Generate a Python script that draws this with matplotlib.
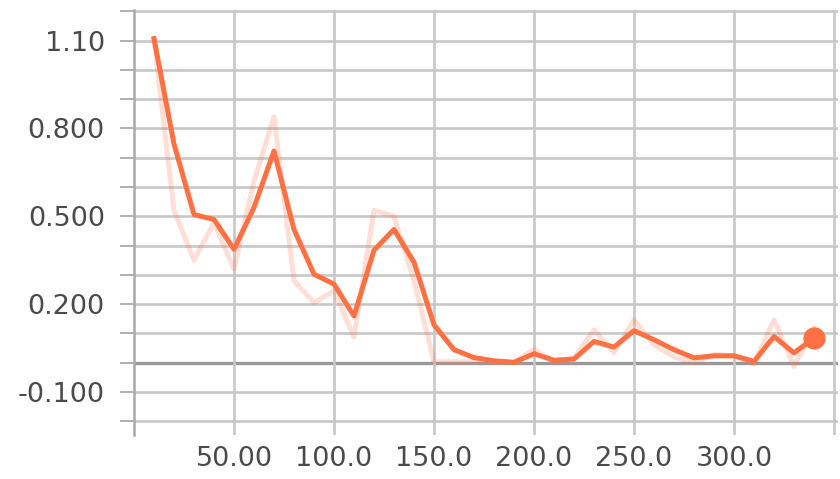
import numpy as np
import matplotlib
matplotlib.use('Agg')
import matplotlib.pyplot as plt
from matplotlib.ticker import FixedLocator, FixedFormatter

steps = [10, 20, 30, 40, 50, 60, 70, 80, 90, 100, 110, 120, 130, 140, 150, 160, 170,
         180, 190, 200, 210, 220, 230, 240, 250, 260, 270, 280, 290, 300, 310, 320, 330, 340]
smoothed = [1.107, 0.747, 0.506, 0.489, 0.387, 0.530, 0.723, 0.455, 0.302, 0.268, 0.159,
            0.384, 0.455, 0.343, 0.129, 0.044, 0.017, 0.006, 0.001, 0.030, 0.008, 0.012,
            0.072, 0.053, 0.109, 0.078, 0.044, 0.016, 0.023, 0.023, 0.004, 0.089, 0.033, 0.084]
raw = [1.107, 0.52, 0.35, 0.478, 0.32, 0.62, 0.84, 0.28, 0.205, 0.245, 0.087,
       0.52, 0.50, 0.28, 0.003, 0.003, 0.003, 0.002, 0.0, 0.046, 0.0, 0.015,
       0.112, 0.034, 0.146, 0.06, 0.02, 0.0, 0.028, 0.023, -0.005, 0.146, -0.013, 0.118]

y_major = [1.10, 0.80, 0.50, 0.20, -0.10]
y_labels = ['1.10', '0.800', '0.500', '0.200', '-0.100']
x_major = [50, 100, 150, 200, 250, 300]
x_labels = ['50.00', '100.0', '150.0', '200.0', '250.0', '300.0']

plt.rcParams['font.family'] = ['DejaVu Sans']
orange = '#ff7043'

fig = plt.figure(figsize=(8.4, 4.79), dpi=100)
ax = fig.add_axes([134/840, 44/479, 704/840, 425/479])

# grid lines (every 0.1 in y, every 50 in x)
for v in np.arange(-0.2, 1.21, 0.1):
    if abs(v) < 1e-9:
        continue
    ax.axhline(v, color='#c8c8c8', lw=1.9, zorder=1)
ax.axhline(0, color='#999999', lw=2.4, zorder=1)
for v in range(50, 351, 50):
    ax.axvline(v, color='#c8c8c8', lw=1.9, zorder=1)

ax.plot(steps, raw, color=orange, alpha=0.22, lw=3.6, zorder=2)
ax.plot(steps, smoothed, color=orange, lw=3.6, zorder=3)
ax.plot(steps[-1], smoothed[-1], 'o', color=orange, markersize=15, zorder=4)

ax.set_xlim(0, 352)
ax.set_ylim(-0.2476, 1.205)

ax.yaxis.set_major_locator(FixedLocator(y_major))
ax.yaxis.set_major_formatter(FixedFormatter(y_labels))
ax.yaxis.set_minor_locator(FixedLocator(np.arange(-0.2, 1.21, 0.1)))
ax.xaxis.set_major_locator(FixedLocator(x_major))
ax.xaxis.set_major_formatter(FixedFormatter(x_labels))

ax.tick_params(axis='y', which='both', length=10, width=1.4, color='#b0b0b0',
               labelsize=19.5, labelcolor='#4a4a4a', pad=11)
ax.tick_params(axis='x', length=0, labelsize=19.5, labelcolor='#4a4a4a', pad=8)

for s in ['top', 'right', 'bottom']:
    ax.spines[s].set_visible(False)
ax.spines['left'].set_color('#a8a8a8')
ax.spines['left'].set_linewidth(1.8)

fig.savefig('out.png', dpi=100)
